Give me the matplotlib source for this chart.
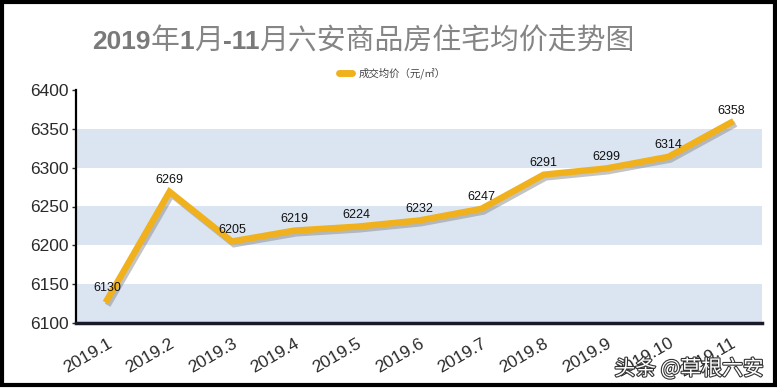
import matplotlib
matplotlib.use('Agg')
import matplotlib.pyplot as plt
import matplotlib.patheffects as pe
from matplotlib.patches import Rectangle

plt.rcParams['font.family'] = ['Liberation Sans', 'Noto Sans CJK SC', 'DejaVu Sans']

months = ['2019.1', '2019.2', '2019.3', '2019.4', '2019.5', '2019.6',
          '2019.7', '2019.8', '2019.9', '2019.10', '2019.11']
prices = [6130, 6269, 6205, 6219, 6224, 6232, 6247, 6291, 6299, 6314, 6358]
band_starts = [6100, 6200, 6300]
# title in pieces: (text, is_latin_bold)
title_parts = [('2019', True), ('年', False), ('1', True), ('月', False),
               ('-11', True), ('月六安商品房住宅均价走势图', False)]

W, H = 777, 388
fig = plt.figure(figsize=(W / 100, H / 100), dpi=100)
ax = fig.add_axes([76 / W, 1 - 323 / H, (762 - 76) / W, (323 - 90) / H])

x = list(range(len(months)))
for b in band_starts:
    ax.axhspan(b, b + 50, color='#dbe5f1', lw=0, zorder=0)

ax.plot(x, prices, color='#f0b11d', lw=4.6, solid_joinstyle='miter', zorder=3,
        path_effects=[pe.SimpleLineShadow(offset=(1.5, -2), shadow_color='#8a8a8a', alpha=0.5),
                      pe.Normal()])
for xi, p in zip(x, prices):
    ax.annotate(str(p), (xi, p), xytext=(0, 4), textcoords='offset points',
                ha='center', va='bottom', fontsize=9, color='#111111', zorder=4)

ax.set_xlim(-0.5, 10.5)
ax.set_ylim(6100, 6400)
ax.set_yticks(range(6100, 6401, 50))
ax.set_xticks(x)
ax.set_xticklabels(months, rotation=30, ha='right', rotation_mode='anchor')
ax.tick_params(axis='y', labelsize=12.5, colors='#2a2a2a', length=3, width=1, pad=2)
ax.tick_params(axis='x', labelsize=12.5, colors='#2a2a2a', length=0, pad=9)
for s in ['top', 'right']:
    ax.spines[s].set_visible(False)
ax.spines['left'].set_linewidth(1.6)
ax.spines['bottom'].set_linewidth(2.5)
ax.spines['bottom'].set_color('#1a1a2a')

# title, digits bold, CJK regular
renderer = fig.canvas.get_renderer()
xpix = 92
for txt, latin in title_parts:
    if latin:
        t = fig.text(xpix / W, 1 - 49 / H, txt, ha='left', va='baseline', fontsize=19,
                     fontweight='bold', color='#7a7a7a', family=['Liberation Sans'])
    else:
        t = fig.text(xpix / W, 1 - 49 / H, txt, ha='left', va='baseline', fontsize=20.8,
                     color='#858585', family=['Noto Sans CJK SC'])
    xpix += t.get_window_extent(renderer).width

# legend
fig.add_artist(plt.Line2D([339 / W, 352 / W], [1 - 73 / H, 1 - 73 / H], color='#f0b11d', lw=5,
                          solid_capstyle='round', transform=fig.transFigure))
fig.text(359 / W, 1 - 73 / H, '成交均价（元/㎡）', ha='left', va='center', fontsize=7.5,
         color='#444444', family=['Noto Sans CJK SC', 'DejaVu Sans'])

# watermark
fig.text(764 / W, 1 - 369 / H, '头条 @草根六安', ha='right', va='center', fontsize=15,
         color='white', family=['Noto Sans CJK SC', 'DejaVu Sans'],
         path_effects=[pe.withStroke(linewidth=1.6, foreground='#333333')])

fig.add_artist(Rectangle((0.002, 0.008), 0.996, 0.988, transform=fig.transFigure,
                         fill=False, edgecolor='black', lw=3))

fig.savefig('out.png', dpi=100)
